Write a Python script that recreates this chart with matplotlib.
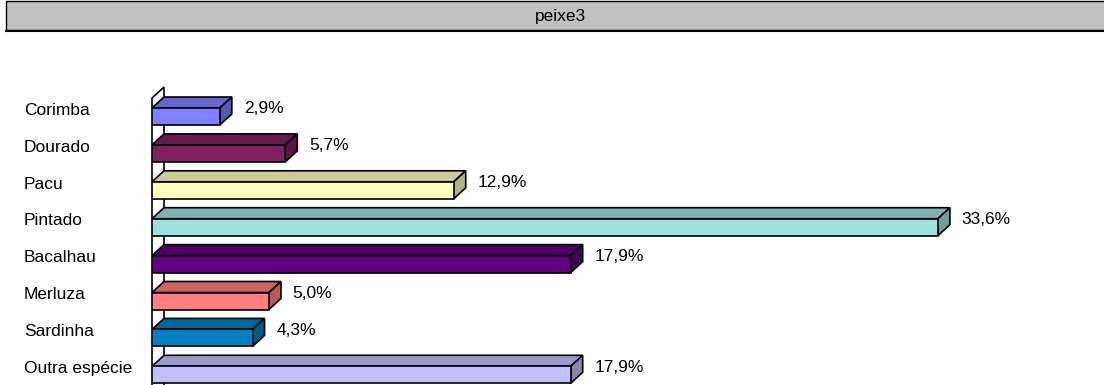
import matplotlib
matplotlib.use("Agg")
import matplotlib.pyplot as plt
from matplotlib.patches import Polygon, Rectangle
from matplotlib.lines import Line2D

categories = ["Corimba", "Dourado", "Pacu", "Pintado", "Bacalhau", "Merluza", "Sardinha", "Outra espécie"]
values = [2.9, 5.7, 12.9, 33.6, 17.9, 5.0, 4.3, 17.9]
labels = ["2,9%", "5,7%", "12,9%", "33,6%", "17,9%", "5,0%", "4,3%", "17,9%"]
front_colors = ["#8080FF", "#802060", "#FFFFC0", "#A0E0E0", "#600080", "#FF8080", "#0080C0", "#C0C0FF"]
top_colors = ["#6666CC", "#661A4D", "#CCCC9A", "#80B3B3", "#4D0066", "#CC6666", "#00669A", "#9A9ACC"]
side_colors = ["#5959B3", "#5A1643", "#B3B386", "#709D9D", "#430059", "#B35959", "#005A86", "#8686B3"]
title = "peixe3"

plt.rcParams['font.family'] = ['Liberation Sans', 'DejaVu Sans']

W, H = 1104, 385
fig = plt.figure(figsize=(W / 100, H / 100), dpi=100)

# axes placement in pixels
px_per_pct = 23.39
row_px = 36.9
x0_px = 152
top_px = 80
first_center_px = 116.5
xmax = 40
left = x0_px / W
width = xmax * px_per_pct / W
ytop = -(first_center_px - top_px) / row_px
ybot = (H - first_center_px) / row_px
ax = fig.add_axes([left, 0, width, (H - top_px) / H])
ax.set_xlim(0, xmax)
ax.set_ylim(ybot, ytop)
ax.axis("off")

DX = 12 / px_per_pct
DY = 11 / row_px
bh = 17 / row_px

# wall
wall = Polygon([(0, -0.5), (DX, -0.5 - DY), (DX, 7.6 - DY), (0, 7.6)],
               closed=True, facecolor="white", edgecolor="black", lw=1.2, zorder=1, clip_on=False)
ax.add_patch(wall)

for i, (v, fc, tc, sc, lab) in enumerate(zip(values, front_colors, top_colors, side_colors, labels)):
    yt = i - bh / 2
    yb = i + bh / 2
    top = Polygon([(0, yt), (v, yt), (v + DX, yt - DY), (DX, yt - DY)], closed=True,
                  facecolor=tc, edgecolor="black", lw=1.2, zorder=2)
    side = Polygon([(v, yt), (v + DX, yt - DY), (v + DX, yb - DY), (v, yb)], closed=True,
                   facecolor=sc, edgecolor="black", lw=1.2, zorder=2)
    ax.add_patch(top)
    ax.add_patch(side)
    ax.barh(i, v, height=bh, left=0, color=fc, edgecolor="black", lw=1.2, zorder=3)
    ax.annotate(lab, xy=(v + DX, i - DY / 2 - 0.06), xytext=(8.5, 0), textcoords="offset points",
                ha="left", va="center", fontsize=12.5, color="black")
    ax.annotate(categories[i], xy=(0, i - 0.17), xycoords=("figure pixels", "data"),
                xytext=(24 * 0.72, 0), textcoords="offset points",
                ha="left", va="center", fontsize=12.5, color="black")

# title box
tb = Rectangle((6 / W, 1 - 30 / H), 1.0, 29 / H, transform=fig.transFigure,
               facecolor="#C0C0C0", edgecolor="black", lw=1.0, clip_on=False)
fig.patches.append(tb)
fig.add_artist(Line2D([6 / W, 1], [1 - 30.5 / H, 1 - 30.5 / H], transform=fig.transFigure,
                      color="black", lw=1.5))
fig.text(560 / W, 1 - 17 / H, title, ha="center", va="center", fontsize=12.5, color="black")

fig.savefig("out.png", dpi=100)
